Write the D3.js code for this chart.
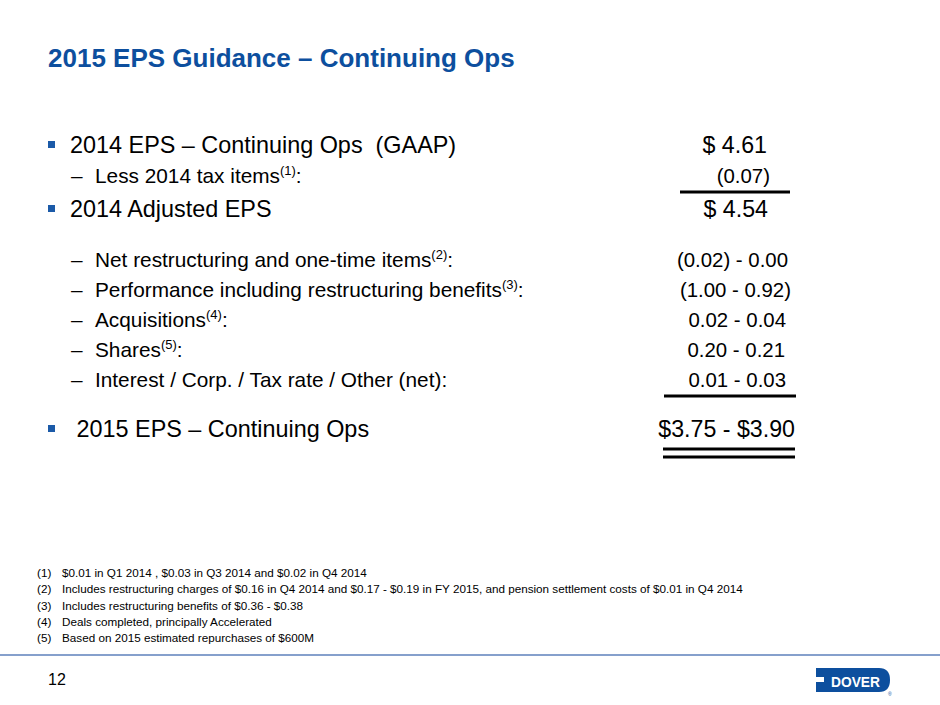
<!DOCTYPE html>
<html>
<head>
<meta charset="utf-8">
<script src="https://cdn.jsdelivr.net/npm/d3@7"></script>
<style>
  html, body { margin: 0; padding: 0; background: #fff; }
  svg { display: block; font-family: "Liberation Sans", Arial, sans-serif; }
</style>
</head>
<body>
<svg id="slide"></svg>
<script>
/* slide content */
const title = "2015 EPS Guidance \u2013 Continuing Ops";

const rowLabels = [
    "2014 EPS \u2013 Continuing Ops\u00a0\u00a0(GAAP)",
    "Less 2014 tax items",
    "2014 Adjusted EPS",
    "Net restructuring and one-time items",
    "Performance including restructuring benefits",
    "Acquisitions",
    "Shares",
    "Interest / Corp. / Tax rate / Other (net)",
    "\u00a02015 EPS \u2013 Continuing Ops"
];
const rowLevels = [0, 1, 0, 1, 1, 1, 1, 1, 0];
const rowNotes = [null, "(1)", null, "(2)", "(3)", "(4)", "(5)", null, null];
const rowColons = [false, true, false, true, true, true, true, true, false];
const rowNewSection = [false, false, false, true, false, false, false, false, true];
const rowValues = [
    "$ 4.61", "(0.07)", "$ 4.54",
    "(0.02) - 0.00", "(1.00 - 0.92)", "0.02 - 0.04", "0.20 - 0.21", "0.01 - 0.03",
    "$3.75 - $3.90"
];
// which rows get a rule underneath: 1 = single, 2 = double
const rowRules = [0, 1, 0, 0, 0, 0, 0, 1, 2];

const footnoteNums = ["(1)", "(2)", "(3)", "(4)", "(5)"];
const footnotes = [
    "$0.01 in Q1 2014 , $0.03 in Q3 2014 and $0.02 in Q4 2014",
    "Includes restructuring charges of $0.16 in Q4 2014 and $0.17 - $0.19 in FY 2015, and pension settlement costs of $0.01 in Q4 2014",
    "Includes restructuring benefits of $0.36 - $0.38",
    "Deals completed, principally Accelerated",
    "Based on 2015 estimated repurchases of $600M"
];
const pageNumber = "12";

/* layout */
const W = 940, H = 705;
const blue = "#0d4f9e";
const valueRight = [767, 770, 768, 788, 791, 786, 785, 786, 795];
const ruleSpan = {1: [680, 790], 7: [664, 796], 8: [663, 795]};

const svg = d3.select("#slide").attr("width", W).attr("height", H);

svg.append("text")
    .attr("x", 48).attr("y", 67)
    .attr("fill", blue)
    .attr("font-size", 26)
    .attr("font-weight", "bold")
    .text(title);

// baselines: sub rows step 30, main rows 34, new section 50
const baselines = [];
rowLabels.forEach((d, i) => {
    if (i === 0) { baselines.push(153); return; }
    const step = rowNewSection[i] ? 50 : (rowLevels[i] === 1 ? 30 : 34);
    baselines.push(baselines[i - 1] + step);
});

const rows = svg.append("g").attr("id", "rows")
  .selectAll("g")
  .data(rowLabels.map((label, i) => ({
      label: label,
      level: rowLevels[i],
      note: rowNotes[i],
      colon: rowColons[i],
      value: rowValues[i],
      rule: rowRules[i],
      y: baselines[i],
      right: valueRight[i],
      i: i
  })))
  .join("g");

// bullet squares for level 0, dashes for level 1
rows.filter((d) => d.level === 0)
  .append("rect")
    .attr("x", 48)
    .attr("y", (d) => d.y - 12)
    .attr("width", 7)
    .attr("height", 7)
    .attr("fill", "#1b5aa8");

rows.filter((d) => d.level === 1)
  .append("text")
    .attr("x", 71)
    .attr("y", (d) => d.y)
    .attr("font-size", 20.8)
    .text("\u2013");

const labels = rows.append("text")
    .attr("x", (d) => d.level === 0 ? 70 : 95)
    .attr("y", (d) => d.y)
    .attr("font-size", (d) => d.level === 0 ? 23.4 : 20.8)
    .attr("fill", "#000");

labels.append("tspan").text((d) => d.label);
labels.filter((d) => d.note)
  .append("tspan")
    .attr("font-size", 13)
    .attr("dy", -8)
    .text((d) => d.note);
labels.filter((d) => d.colon)
  .append("tspan")
    .attr("dy", (d) => d.note ? 8 : 0)
    .text(":");

rows.append("text")
    .attr("x", (d) => d.right)
    .attr("y", (d) => d.y)
    .attr("text-anchor", "end")
    .attr("font-size", (d) => d.level === 0 ? 23.2 : 20.4)
    .attr("fill", "#000")
    .text((d) => d.value);

// rules under values
rows.filter((d) => d.rule > 0).each(function (d) {
    const span = ruleSpan[d.i];
    const offsets = d.rule === 2 ? [12, 20] : [9];
    offsets.forEach((o) => {
        d3.select(this).append("line")
            .attr("x1", span[0]).attr("x2", span[1])
            .attr("y1", d.y + o).attr("y2", d.y + o)
            .attr("stroke", "#000")
            .attr("stroke-width", 3);
    });
});

// footnotes
const notes = svg.append("g").attr("id", "footnotes")
  .selectAll("g")
  .data(footnotes)
  .join("g")
    .attr("transform", (d, i) => `translate(0,${577 + i * 16.3})`);

notes.append("text")
    .attr("x", 37)
    .attr("font-size", 11.7)
    .text((d, i) => footnoteNums[i]);
notes.append("text")
    .attr("x", 62)
    .attr("font-size", 11.7)
    .text((d) => d);

// footer rule
svg.append("line")
    .attr("x1", 0).attr("x2", W)
    .attr("y1", 655).attr("y2", 655)
    .attr("stroke", "#86a0cc")
    .attr("stroke-width", 2);

svg.append("text")
    .attr("x", 48).attr("y", 685)
    .attr("font-size", 16)
    .text(pageNumber);

// logo
const logo = svg.append("g").attr("id", "logo");
logo.append("path")
    .attr("d", "M816,668 H879 Q890,668 890,680 Q890,692 879,692 H816 Z")
    .attr("fill", blue);
logo.append("rect")
    .attr("x", 815).attr("y", 677)
    .attr("width", 9).attr("height", 5)
    .attr("fill", "#fff");
logo.append("text")
    .attr("x", 831).attr("y", 687)
    .attr("font-family", "'Liberation Sans Narrow', 'Liberation Sans', sans-serif")
    .attr("font-weight", "bold")
    .attr("font-size", 15.5)
    .attr("fill", "#fff")
    .attr("textLength", 49)
    .attr("lengthAdjust", "spacingAndGlyphs")
    .text("DOVER");
logo.append("text")
    .attr("x", 888).attr("y", 696)
    .attr("font-size", 5)
    .attr("fill", blue)
    .text("\u00ae");
</script>
</body>
</html>
